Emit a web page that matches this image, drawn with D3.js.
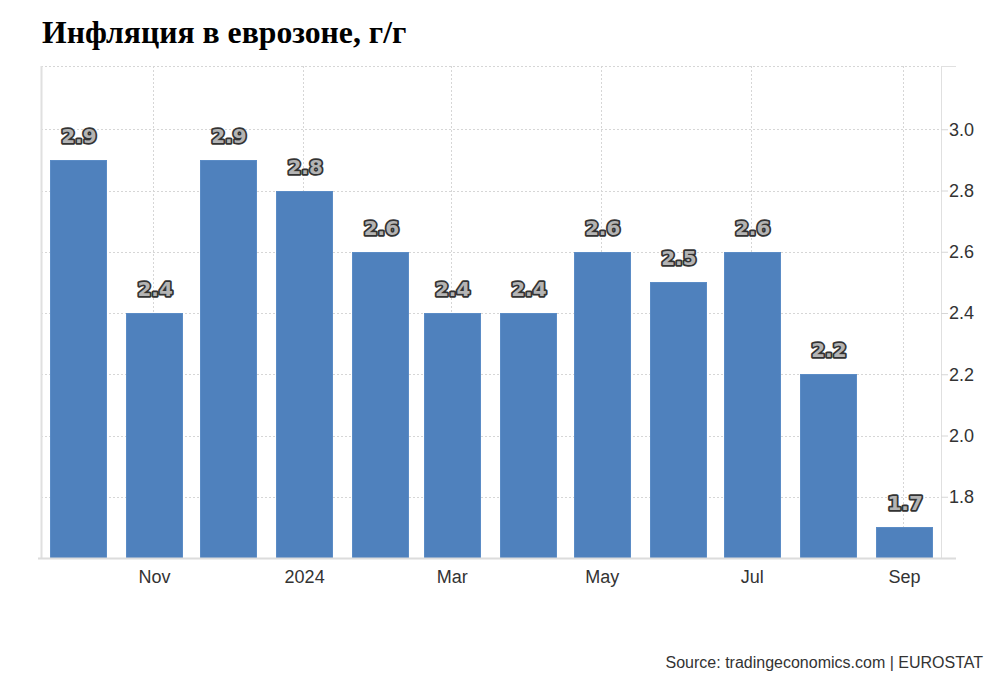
<!DOCTYPE html>
<html>
<head>
<meta charset="utf-8">
<script src="https://cdn.jsdelivr.net/npm/d3@7"></script>
<style>
  body { margin: 0; background: #fff; }
  svg text { font-family: Arial, "Liberation Sans", sans-serif; }
</style>
</head>
<body>
<div id="chart"></div>
<script>
// Euro area inflation, y/y

var months = ["2023-10-01", "2023-11-01", "2023-12-01", "2024-01-01", "2024-02-01", "2024-03-01",
              "2024-04-01", "2024-05-01", "2024-06-01", "2024-07-01", "2024-08-01", "2024-09-01"];
var values = [2.9, 2.4, 2.9, 2.8, 2.6, 2.4, 2.4, 2.6, 2.5, 2.6, 2.2, 1.7];
var yTicks = [1.8, 2.0, 2.2, 2.4, 2.6, 2.8, 3.0];
var xTicks = ["2023-11-01", "2024-01-01", "2024-03-01", "2024-05-01", "2024-07-01", "2024-09-01"];

var param = {
    width: 1000,
    height: 683,
    left: 41,
    right: 941,
    frameTop: 66,
    top: 68,
    bottom: 558,
    barWidth: 56,
    color: "#4f81bd"
};

var parse = d3.timeParse("%Y-%m-%d");
var data = months.map(function(m, i){ return { date: parse(m), value: values[i] }; });

var svg = d3.select("#chart").append("svg")
    .attr("width", param.width)
    .attr("height", param.height);

var x = d3.scaleTime()
    .domain([parse("2023-09-16"), parse("2024-09-16")])
    .range([param.left, param.right]);
var y = d3.scaleLinear()
    .domain([1.6, 3.2])
    .range([param.bottom, param.top]);

// title
svg.append("text")
    .attr("x", 42).attr("y", 43)
    .style("font-family", "'Liberation Serif', 'Times New Roman', serif")
    .style("font-weight", "bold")
    .style("font-size", "31.7px")
    .attr("fill", "#000")
    .text("Инфляция в еврозоне, г/г");

// grid
var grid = svg.append("g");
grid.selectAll(".hg").data(yTicks).enter().append("line")
    .attr("x1", param.left).attr("x2", param.right)
    .attr("y1", function(d){ return Math.round(y(d)) + 0.5; })
    .attr("y2", function(d){ return Math.round(y(d)) + 0.5; })
    .attr("stroke", "#d6d6d6").attr("stroke-dasharray", "2,2");
grid.append("line")
    .attr("x1", param.left).attr("x2", param.right)
    .attr("y1", param.frameTop + 0.5).attr("y2", param.frameTop + 0.5)
    .attr("stroke", "#d6d6d6").attr("stroke-dasharray", "2,2");
grid.selectAll(".vg").data(xTicks).enter().append("line")
    .attr("x1", function(d){ return Math.round(x(parse(d))) - 0.5; })
    .attr("x2", function(d){ return Math.round(x(parse(d))) - 0.5; })
    .attr("y1", param.frameTop).attr("y2", param.bottom)
    .attr("stroke", "#d6d6d6").attr("stroke-dasharray", "2,2");

// frame lines
svg.append("line").attr("x1", param.left + 0.5).attr("x2", param.left + 0.5)
    .attr("y1", param.frameTop).attr("y2", param.bottom)
    .attr("stroke", "#e0e0e0").attr("stroke-width", 2);
svg.append("line").attr("x1", param.right + 0.5).attr("x2", param.right + 0.5)
    .attr("y1", param.frameTop).attr("y2", param.bottom)
    .attr("stroke", "#e0e0e0").attr("stroke-width", 1);
svg.append("line").attr("x1", param.right).attr("x2", 956)
    .attr("y1", param.frameTop + 0.5).attr("y2", param.frameTop + 0.5)
    .attr("stroke", "#e0e0e0");

// bars
svg.selectAll(".bar").data(data).enter().append("rect")
    .attr("x", function(d){ return Math.round(x(d.date) - param.barWidth / 2) + 0.5; })
    .attr("y", function(d){ return Math.round(y(d.value)) + 0.5; })
    .attr("width", param.barWidth)
    .attr("height", function(d){ return param.bottom - Math.round(y(d.value)); })
    .attr("fill", param.color)
    .attr("stroke", "#5b8cc6").attr("stroke-width", 1);

// bottom axis line
svg.append("line").attr("x1", 38).attr("x2", 956)
    .attr("y1", param.bottom + 0.5).attr("y2", param.bottom + 0.5)
    .attr("stroke", "#dcdcdc").attr("stroke-width", 2);

// x axis
var xAxis = d3.axisBottom(x)
    .tickValues(xTicks.map(parse))
    .tickSize(0)
    .tickPadding(12)
    .tickFormat(function(d){ return d.getMonth() === 0 ? d3.timeFormat("%Y")(d) : d3.timeFormat("%b")(d); });
var gx = svg.append("g").attr("transform", "translate(0," + param.bottom + ")").call(xAxis);
gx.select(".domain").remove();
gx.selectAll("text").style("font-size", "18px").attr("fill", "#333");

// y axis
var yAxis = d3.axisRight(y).tickValues(yTicks).tickSize(7).tickPadding(1)
    .tickFormat(d3.format(".1f"));
var gy = svg.append("g").attr("transform", "translate(" + param.right + ",0)").call(yAxis);
gy.select(".domain").remove();
gy.selectAll("line").attr("stroke", "#d6d6d6");
gy.selectAll("text").style("font-size", "18px").attr("fill", "#333");

// value labels
svg.selectAll(".lbl").data(data).enter().append("text")
    .attr("x", function(d){ return x(d.date) + 1; })
    .attr("y", function(d){ return y(d.value) - 17; })
    .attr("text-anchor", "middle")
    .style("font-family", "'DejaVu Sans', Verdana, sans-serif")
    .style("font-size", "20px")
    .style("font-weight", "bold")
    .style("paint-order", "stroke")
    .attr("stroke", "#333").attr("stroke-width", 3.5).attr("stroke-linejoin", "round")
    .attr("fill", "#b4b4b4")
    .text(function(d){ return d3.format(".1f")(d.value); });

// source
svg.append("text")
    .attr("x", 983).attr("y", 668)
    .attr("text-anchor", "end")
    .style("font-size", "16px")
    .attr("fill", "#333")
    .text("Source: tradingeconomics.com | EUROSTAT");
</script>
</body>
</html>
